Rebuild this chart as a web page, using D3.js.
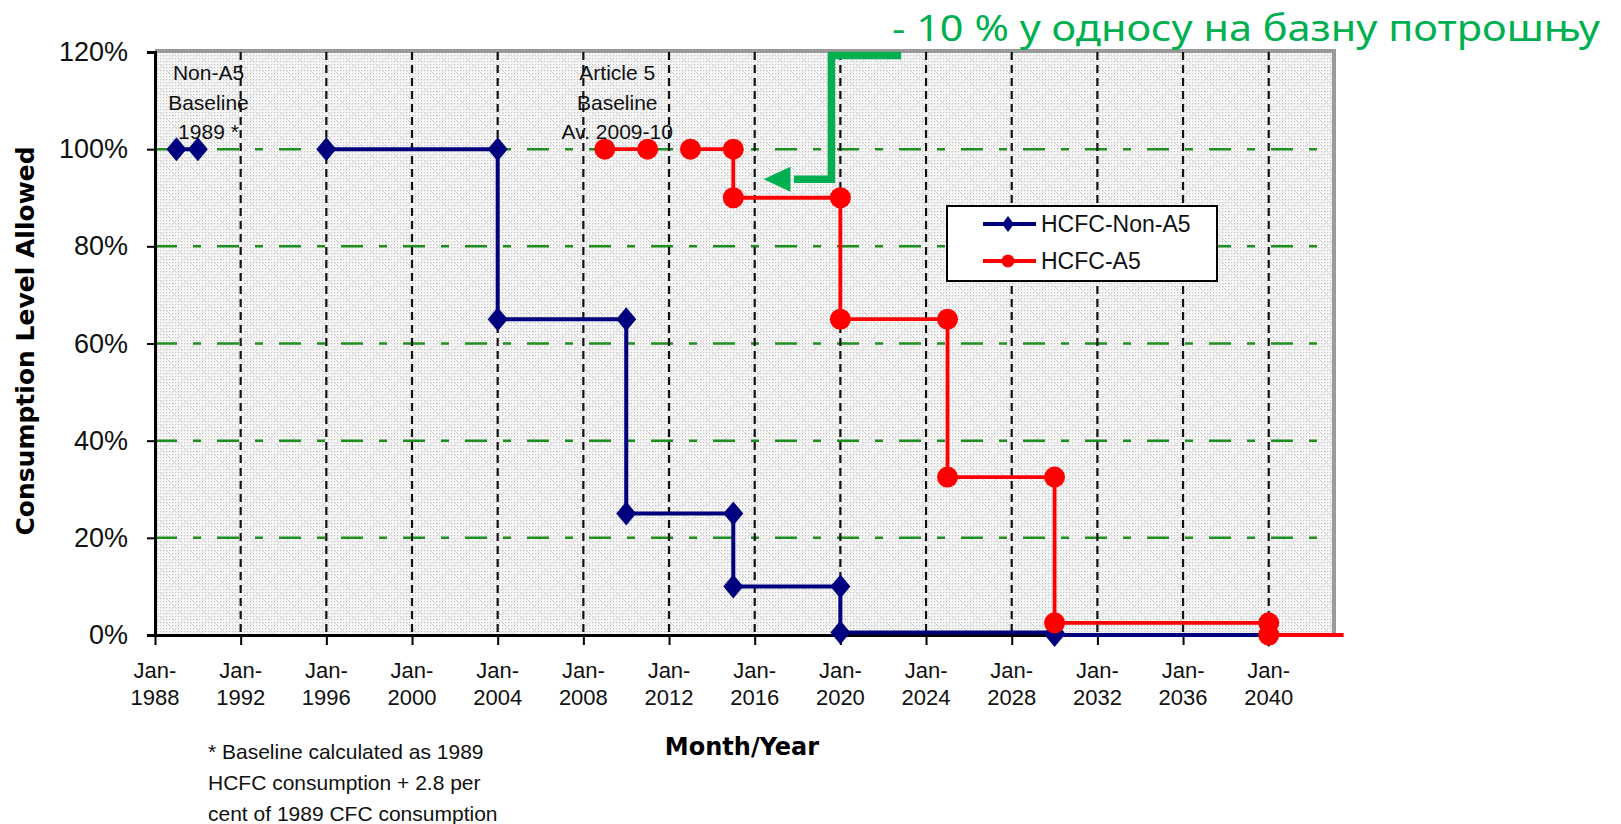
<!DOCTYPE html>
<html><head><meta charset="utf-8">
<script src="https://cdn.jsdelivr.net/npm/d3@7"></script>
<style>body{margin:0;background:#fff;} svg{display:block}</style>
</head><body>
<svg id="chart" width="1621" height="824"></svg>
<script>
// ---------------- data ----------------
const tickYears = [1988, 1992, 1996, 2000, 2004, 2008, 2012, 2016, 2020, 2024, 2028, 2032, 2036, 2040];
const tickMonthLabel = "Jan-";
const yTicks = [0, 20, 40, 60, 80, 100, 120];
const yTickLabels = ["0%", "20%", "40%", "60%", "80%", "100%", "120%"];
const seriesNames = ["HCFC-Non-A5", "HCFC-A5"];

const nonA5Years  = [1989, 1990, null, 1996, 2004, 2004, 2010, 2010, 2015, 2015, 2020, 2020, 2030, 2030, 2040];
const nonA5Values = [100,  100,  null, 100,  100,  65,   65,   25,   25,   10,   10,   0.5,  0.5,  0,    0];

const a5Years  = [2009, 2011, null, 2013, 2015, 2015, 2020, 2020, 2025, 2025, 2030, 2030, 2040, 2040];
const a5Values = [100,  100,  null, 100,  100,  90,   90,   65,   65,   32.5, 32.5, 2.5,  2.5,  0];
const a5TailYear = 2043.5;   // line continues past the plot edge, no marker

const xTitle = "Month/Year";
const yTitle = "Consumption Level Allowed";
const noteNonA5 = ["Non-A5", "Baseline", "1989 *"];
const noteA5 = ["Article 5", "Baseline", "Av. 2009-10"];
const footnote = ["* Baseline calculated as 1989", "HCFC consumption + 2.8 per", "cent of 1989 CFC consumption"];
const greenNote = "- 10 % у односу на базну потрошњу";

// ---------------- layout ----------------
const svg = d3.select("#chart");
const L = 155, R = 1333, T = 52, B = 635;
const toDate = y => { const yr = Math.floor(y); return new Date(yr, Math.round((y - yr) * 12), 1); };

const x = d3.scaleTime().domain([new Date(1988, 0, 1), new Date(2043, 0, 1)]).range([L, R]);
const y = d3.scaleLinear().domain([0, 120]).range([B, T]);

const REG = "'Liberation Sans', Arial, sans-serif";
const BOLD = "'DejaVu Sans', Verdana, sans-serif";

// background pattern
const defs = svg.append("defs");
const pat = defs.append("pattern").attr("id", "bg").attr("width", 24).attr("height", 24)
  .attr("patternUnits", "userSpaceOnUse");
pat.append("rect").attr("width", 24).attr("height", 24).attr("fill", "#f7f7f7");
for (let i = 0; i < 8; i++) for (let j = 0; j < 8; j++) {
  pat.append("rect").attr("x", i * 3 + 1).attr("y", j * 3 + 1).attr("width", 1.2).attr("height", 1.2).attr("fill", "#c2c2c2");
}
pat.append("path").attr("d", "M0,0 L12,12 M12,0 L0,12 M12,12 L24,24 M24,12 L12,24")
  .attr("stroke", "#cdcdcd").attr("stroke-width", 1).attr("stroke-dasharray", "1.5,1.5");
pat.append("rect").attr("x", 16).attr("y", 4).attr("width", 1).attr("height", 1).attr("fill", "#e8e86a");
pat.append("rect").attr("x", 5).attr("y", 19).attr("width", 1).attr("height", 1).attr("fill", "#b0b8e0");

svg.append("rect").attr("x", L).attr("y", T).attr("width", R - L).attr("height", B - T).attr("fill", "url(#bg)");

// gray frame top/right
svg.append("path").attr("d", `M${L},${T - 1} H${R + 1} V${B}`).attr("fill", "none")
  .attr("stroke", "#9a9a9a").attr("stroke-width", 4);

// horizontal gridlines (green dash-dot)
svg.append("g").selectAll("line").data(yTicks.filter(v => v > 0 && v < 120)).join("line")
  .attr("x1", L).attr("x2", R).attr("y1", d => y(d)).attr("y2", d => y(d))
  .attr("stroke", "#1f8f1f").attr("stroke-width", 2.5).attr("stroke-dasharray", "22,16,8,16");

// vertical gridlines (black dashed)
svg.append("g").selectAll("line").data(tickYears.slice(1)).join("line")
  .attr("x1", d => x(toDate(d))).attr("x2", d => x(toDate(d))).attr("y1", T).attr("y2", B)
  .attr("stroke", "#111").attr("stroke-width", 2.2).attr("stroke-dasharray", "8,5");

// axes
const yAxis = d3.axisLeft(y).tickValues(yTicks).tickFormat((d, i) => yTickLabels[i]).tickSize(8).tickPadding(19);
const gy = svg.append("g").attr("transform", `translate(${L},0)`).call(yAxis);
gy.select(".domain").attr("stroke", "#000").attr("stroke-width", 3);
gy.selectAll(".tick line").attr("stroke", "#000").attr("stroke-width", 2);
gy.selectAll(".tick text").attr("font-family", REG).attr("font-size", 27).attr("fill", "#111");

const xAxis = d3.axisBottom(x).tickValues(tickYears.map(toDate)).tickFormat("").tickSize(10).tickSizeOuter(0);
const gx = svg.append("g").attr("transform", `translate(0,${B})`).call(xAxis);
gx.select(".domain").attr("stroke", "#000").attr("stroke-width", 3);
gx.selectAll(".tick line").attr("stroke", "#000").attr("stroke-width", 2);

const xl = svg.append("g").selectAll("g").data(tickYears).join("g")
  .attr("transform", d => `translate(${x(toDate(d))},0)`);
xl.append("text").attr("y", 678).attr("text-anchor", "middle").attr("font-family", REG).attr("font-size", 22)
  .attr("fill", "#111").text(tickMonthLabel);
xl.append("text").attr("y", 705).attr("text-anchor", "middle").attr("font-family", REG).attr("font-size", 22)
  .attr("fill", "#111").text(d => d);

// titles
svg.append("text").attr("x", 742).attr("y", 755).attr("text-anchor", "middle")
  .attr("font-family", BOLD).attr("font-weight", "bold").attr("font-size", 24).attr("fill", "#000").text(xTitle);
svg.append("text").attr("transform", "translate(34,341) rotate(-90)").attr("text-anchor", "middle")
  .attr("font-family", BOLD).attr("font-weight", "bold").attr("font-size", 25).attr("fill", "#000").text(yTitle);

// series
const nonA5 = nonA5Years.map((yr, i) => ({ yr, v: nonA5Values[i] }));
const a5 = a5Years.map((yr, i) => ({ yr, v: a5Values[i] }));
const a5Line = a5.concat([{ yr: a5TailYear, v: a5Values[a5Values.length - 1], tail: true }]);

const line = d3.line().defined(d => d.yr != null && d.v != null)
  .x(d => x(toDate(d.yr))).y(d => y(d.v));

const diamond = (w, h) => `M0,${-h}L${w},0L0,${h}L${-w},0Z`;

svg.append("path").datum(nonA5).attr("d", line).attr("fill", "none")
  .attr("stroke", "#00007f").attr("stroke-width", 4);
svg.append("g").selectAll("path").data(nonA5.filter(d => d.v != null)).join("path")
  .attr("transform", d => `translate(${x(toDate(d.yr))},${y(d.v)})`)
  .attr("d", diamond(10, 12)).attr("fill", "#00007f");

svg.append("path").datum(a5Line).attr("d", line).attr("fill", "none")
  .attr("stroke", "#ff0000").attr("stroke-width", 3.8);
svg.append("g").selectAll("circle").data(a5.filter(d => d.v != null)).join("circle")
  .attr("cx", d => x(toDate(d.yr))).attr("cy", d => y(d.v)).attr("r", 10.5).attr("fill", "#ff0000");

// annotations
function block(lines, cx, y0, step) {
  svg.append("g").selectAll("text").data(lines).join("text")
    .attr("x", cx).attr("y", (d, i) => y0 + i * step).attr("text-anchor", "middle")
    .attr("font-family", REG).attr("font-size", 21).attr("fill", "#111").text(d => d);
}
block(noteNonA5, x(toDate(1990.5)), y(120) + 28, 29.5);
block(noteA5, x(toDate(2009.55)), y(120) + 28, 29.5);

svg.append("g").selectAll("text").data(footnote).join("text")
  .attr("x", 208).attr("y", (d, i) => 759 + i * 31)
  .attr("font-family", REG).attr("font-size", 21).attr("fill", "#111").text(d => d);

// legend
const lg = svg.append("g");
lg.append("rect").attr("x", 947).attr("y", 206).attr("width", 270).attr("height", 75)
  .attr("fill", "#fff").attr("stroke", "#000").attr("stroke-width", 2);
[0, 1].forEach(i => {
  const ly = 224 + i * 37;
  const col = i === 0 ? "#00007f" : "#ff0000";
  lg.append("line").attr("x1", 983).attr("x2", 1036).attr("y1", ly).attr("y2", ly)
    .attr("stroke", col).attr("stroke-width", 4);
  if (i === 0) lg.append("path").attr("transform", `translate(1008,${ly})`).attr("d", diamond(6, 8)).attr("fill", col);
  else lg.append("circle").attr("cx", 1008).attr("cy", ly).attr("r", 6.5).attr("fill", col);
  lg.append("text").attr("x", 1041).attr("y", ly + 8).attr("font-family", REG).attr("font-size", 23)
    .attr("fill", "#111").text(seriesNames[i]);
});

// green annotation
const GREEN = "#00b050";
const arrowPts = [[2022.8, 119.3], [2019.6, 119.3], [2019.6, 93.8], [2017.8, 93.8]];
svg.append("path").attr("d", d3.line().x(d => x(toDate(d[0]))).y(d => y(d[1]))(arrowPts))
  .attr("fill", "none").attr("stroke", GREEN).attr("stroke-width", 7.5);
const tipX = x(new Date(2016, 5, 1)), baseX = x(new Date(2017, 8, 1)), ay = y(93.8);
svg.append("path").attr("d", `M${tipX},${ay}L${baseX},${ay - 12.5}L${baseX},${ay + 12.5}Z`).attr("fill", GREEN);

svg.append("text").attr("x", 892).attr("y", 41).attr("font-family", "'Noto Sans', 'Open Sans', sans-serif")
  .attr("font-size", 37).attr("fill", GREEN).attr("textLength", 708).attr("lengthAdjust", "spacingAndGlyphs")
  .text(greenNote);
</script>
</body></html>
